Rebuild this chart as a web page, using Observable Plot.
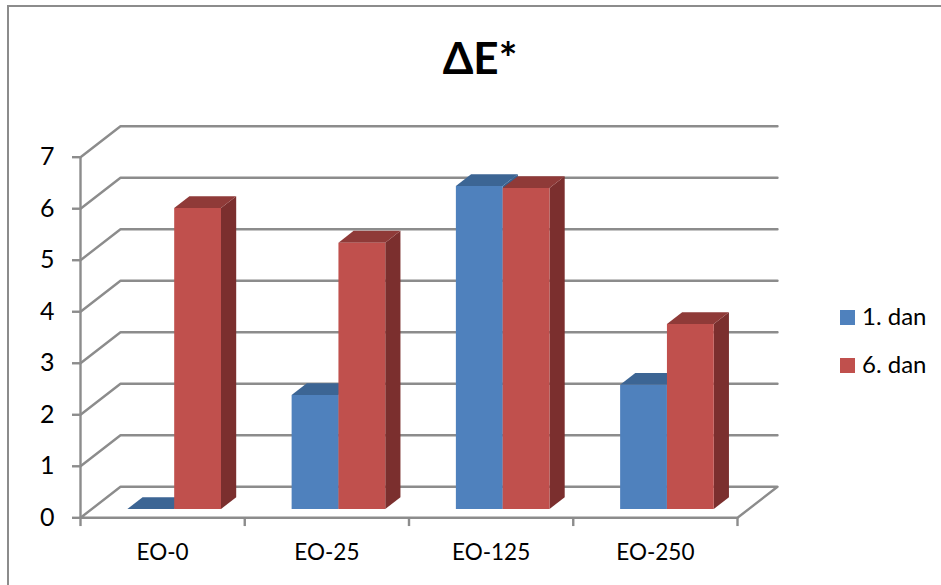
<!DOCTYPE html>
<html><head><meta charset="utf-8">
<script src="https://cdn.jsdelivr.net/npm/d3@7"></script>
<script src="https://cdn.jsdelivr.net/npm/@observablehq/plot@0.6"></script>
<style>
html,body{margin:0;padding:0;background:#fff;}
#wrap{position:relative;width:941px;height:585px;overflow:hidden;font-family:Lato,sans-serif;color:#000;}
#frame{position:absolute;left:6.5px;top:4.5px;right:-5px;bottom:-5px;border:2px solid #8c8c8c;}
#title{position:absolute;left:0;top:32px;width:960px;text-align:center;font-size:44px;font-weight:700;line-height:50px;}
.leg{position:absolute;left:840px;font-size:24px;line-height:24px;white-space:nowrap;}
.leg i{display:inline-block;width:15px;height:15px;margin-right:7px;}
svg{position:absolute;left:0;top:0;background:transparent!important;}
</style></head><body>
<div id="wrap"><div id="frame"></div><div id="title">ΔE*</div><div id="chart"></div>
<div class="leg" style="top:304px"><i style="background:#4f81bd"></i>1. dan</div>
<div class="leg" style="top:352px"><i style="background:#c0504d"></i>6. dan</div>
</div>
<script>
const categories = ["EO-0","EO-25","EO-125","EO-250"];
const day1 = [0, 2.21, 6.27, 2.41];
const day6 = [5.84, 5.17, 6.23, 3.59];
const yTicks = [0,1,2,3,4,5,6,7];

// oblique projection: depth 1 is the back wall
const DX = 40/164.25, DY = 31/51.5;
const P = (x,v,d)=>({x:x+d*DX, y:v+d*DY});
const d0 = 0.285, d1 = 0.285+0.38;
const barW = 0.285, barL = 0.216;

const polys = [];
function poly(id,color,pts){ [...pts,pts[0]].forEach(p=>polys.push({id,color,x:p.x,y:p.y})); }
function bar(id,x,v,front,side,top){
  const a=x, b=x+barW;
  poly(id+"s",side,[P(b,0,d0),P(b,0,d1),P(b,v,d1),P(b,v,d0)]);
  poly(id+"t",top,[P(a,v,d0),P(b,v,d0),P(b,v,d1),P(a,v,d1)]);
  poly(id+"f",front,[P(a,0,d0),P(b,0,d0),P(b,v,d0),P(a,v,d0)]);
}
categories.forEach((c,i)=>{
  bar(c+"a",i+barL,day1[i],"#4f81bd","#37608f","#3c6594");
  bar(c+"b",i+barL+barW,day6[i],"#c0504d","#7b2f2e","#8f3a38");
});

const grid = yTicks.slice(1).flatMap(v=>[P(0,v,0),P(0,v,1),P(4,v,1)].map(p=>({...p,v})));
const floor = [P(0,0,0),P(4,0,0),P(4,0,1),P(0,0,1),P(0,0,0)];
const wall = [P(0,0,0),P(0,7,0)];
const gray="#8c8c8c", sw=2.4;

const chart = Plot.plot({
  width:941,height:585,
  marginLeft:80,marginRight:204,marginTop:156.7,marginBottom:67.7,
  x:{domain:[0,4],axis:null},
  y:{domain:[0,7],axis:null},
  color:{type:"identity"},
  style:{fontFamily:"Lato,sans-serif",background:"transparent",overflow:"visible"},
  marks:[
    Plot.line(grid,{x:"x",y:"y",z:"v",stroke:gray,strokeWidth:sw}),
    Plot.line(floor,{x:"x",y:"y",stroke:gray,strokeWidth:sw}),
    Plot.line(wall,{x:"x",y:"y",stroke:gray,strokeWidth:sw}),
    Plot.line(polys,{x:"x",y:"y",z:"id",fill:"color",stroke:"none"}),
    Plot.ruleX([0,1,2,3,4],{x:d=>d,y1:0,y2:-0.17,stroke:gray,strokeWidth:sw}),
    Plot.axisY({ticks:yTicks,tickSize:8,tickPadding:18,label:null,fontSize:25,stroke:gray,strokeWidth:sw,fill:"#000",tickFormat:d=>String(d)}),
    Plot.axisX({ticks:[0.5,1.5,2.5,3.5],tickSize:0,tickPadding:26,label:null,fontSize:22.5,fill:"#000",tickFormat:d=>categories[d-0.5]})
  ]
});
document.getElementById("chart").appendChild(chart);
</script>
</body></html>
